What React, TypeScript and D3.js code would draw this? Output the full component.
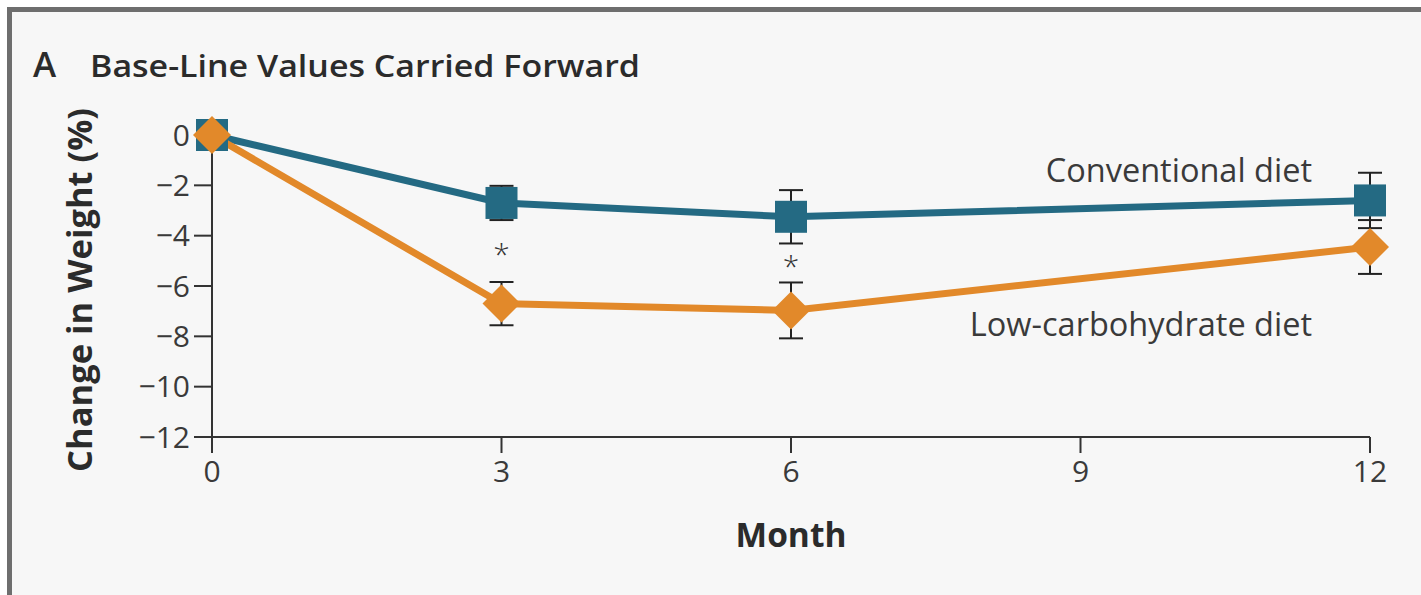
import React from "react";
import * as d3 from "d3";

const months = [0, 3, 6, 12];
const conventional = [0, -2.7, -3.25, -2.6];
const conventionalErr = [0, 0.68, 1.06, 1.1];
const lowCarb = [0, -6.7, -6.97, -4.45];
const lowCarbErr = [0, 0.86, 1.11, 1.07];
const significant = [false, true, true, false];
const xTicks = [0, 3, 6, 9, 12];
const yTicks = [0, -2, -4, -6, -8, -10, -12];

const W = 1421;
const H = 595;
const TEAL = "#246a83";
const ORANGE = "#e2892a";
const TEXT = "#2b2b2b";
const FONT = "'Open Sans', 'Noto Sans', sans-serif";

export default function App() {
  const x = d3.scaleLinear().domain([0, 12]).range([212, 1370]);
  const y = d3.scaleLinear().domain([0, -12]).range([135, 437]);
  const line = d3
    .line<number>()
    .x((_, i) => x(months[i]))
    .y((d) => y(d));

  const sq = 32;
  const dia = 19;

  return (
    <svg
      width={W}
      height={H}
      style={{ position: "absolute", left: 0, top: 0, background: "#ffffff" }}
      fontFamily={FONT}
    >
      <rect x={9.5} y={9.5} width={W + 20} height={H + 20} fill="#f7f7f7" stroke="#6e6e6e" strokeWidth={5} />
      {/* title */}
      <text x={33} y={77} fontSize={35} fontWeight={600} fill={TEXT}>A</text>
      <text x={90} y={77} fontSize={30} fontWeight={600} fill={TEXT} textLength={550} lengthAdjust="spacingAndGlyphs">
        Base-Line Values Carried Forward
      </text>

      {/* y axis */}
      <line x1={x(0)} x2={x(0)} y1={y(0)} y2={y(-12) + 16} stroke="#333" strokeWidth={2} />
      {yTicks.map((t) => (
        <g key={t}>
          {t !== 0 && <line x1={x(0) - 18} x2={x(0)} y1={y(t)} y2={y(t)} stroke="#333" strokeWidth={2} />}
          <text x={190} y={y(t)} dy="0.36em" textAnchor="end" fontSize={30} fill="#3a3a3a">
            {t < 0 ? "\u2212" + Math.abs(t) : String(t)}
          </text>
        </g>
      ))}
      {/* x axis */}
      <line x1={x(0) - 18} x2={x(12)} y1={y(-12)} y2={y(-12)} stroke="#333" strokeWidth={2} />
      {xTicks.map((t) => (
        <g key={t}>
          <line x1={x(t)} x2={x(t)} y1={y(-12)} y2={y(-12) + 16} stroke="#333" strokeWidth={2} />
          <text x={x(t)} y={y(-12) + 45} textAnchor="middle" fontSize={30} fill="#3a3a3a">
            {t}
          </text>
        </g>
      ))}
      <text x={791} y={547} textAnchor="middle" fontSize={33.5} fontWeight={700} fill={TEXT}>Month</text>
      <text
        transform={`translate(92, 290) rotate(-90)`}
        textAnchor="middle"
        fontSize={34.5}
        fontWeight={700}
        fill={TEXT}
      >
        Change in Weight (%)
      </text>

      {/* error bars */}
      {months.map((m, i) =>
        i === 0 ? null : (
          <g key={"e" + m} stroke="#222" strokeWidth={2}>
            <line x1={x(m)} x2={x(m)} y1={y(conventional[i] + conventionalErr[i])} y2={y(conventional[i] - conventionalErr[i])} />
            <line x1={x(m) - 12} x2={x(m) + 12} y1={y(conventional[i] + conventionalErr[i])} y2={y(conventional[i] + conventionalErr[i])} />
            <line x1={x(m) - 12} x2={x(m) + 12} y1={y(conventional[i] - conventionalErr[i])} y2={y(conventional[i] - conventionalErr[i])} />
            <line x1={x(m)} x2={x(m)} y1={y(lowCarb[i] + lowCarbErr[i])} y2={y(lowCarb[i] - lowCarbErr[i])} />
            <line x1={x(m) - 12} x2={x(m) + 12} y1={y(lowCarb[i] + lowCarbErr[i])} y2={y(lowCarb[i] + lowCarbErr[i])} />
            <line x1={x(m) - 12} x2={x(m) + 12} y1={y(lowCarb[i] - lowCarbErr[i])} y2={y(lowCarb[i] - lowCarbErr[i])} />
          </g>
        )
      )}

      {/* lines */}
      <path d={line(conventional) || ""} fill="none" stroke={TEAL} strokeWidth={7} />
      <path d={line(lowCarb) || ""} fill="none" stroke={ORANGE} strokeWidth={7} />

      {/* markers */}
      {months.map((m, i) => (
        <rect key={"s" + m} x={x(m) - sq / 2} y={y(conventional[i]) - sq / 2} width={sq} height={sq} fill={TEAL} />
      ))}
      {months.map((m, i) => (
        <path
          key={"d" + m}
          d={`M${x(m)},${y(lowCarb[i]) - dia}L${x(m) + dia},${y(lowCarb[i])}L${x(m)},${y(lowCarb[i]) + dia}L${x(m) - dia},${y(lowCarb[i])}Z`}
          fill={ORANGE}
        />
      ))}

      {/* significance */}
      {months.map((m, i) =>
        significant[i] ? (
          <text key={"a" + m} x={x(m)} y={(y(conventional[i] - conventionalErr[i]) + y(lowCarb[i] + lowCarbErr[i])) / 2 + 14} textAnchor="middle" fontSize={30} fontWeight={300} fill="#333">
            *
          </text>
        ) : null
      )}

      {/* series labels */}
      <text x={1312} y={182} textAnchor="end" fontSize={32.5} fill="#3a3a3a">Conventional diet</text>
      <text x={1312} y={336} textAnchor="end" fontSize={32.5} fill="#3a3a3a">Low-carbohydrate diet</text>
    </svg>
  );
}
